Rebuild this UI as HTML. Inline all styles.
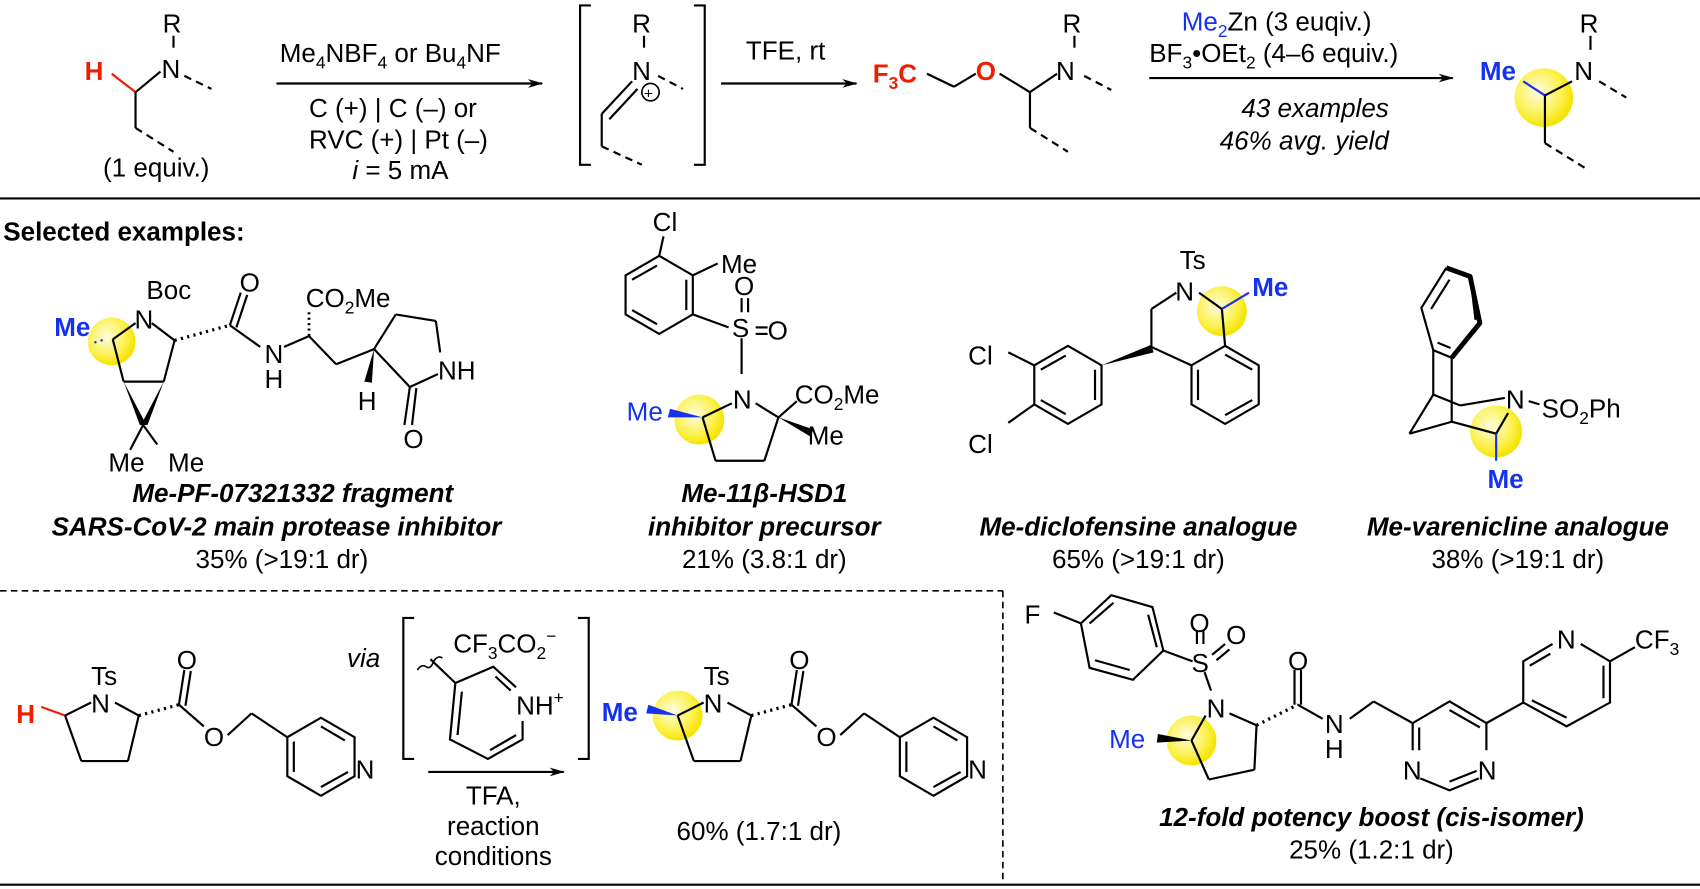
<!DOCTYPE html>
<html><head><meta charset="utf-8"><style>
html,body{margin:0;padding:0;background:#fff;}
svg{display:block;}
text{font-family:"Liberation Sans",Arial,sans-serif;font-size:24px;fill:#000;}
.b{font-weight:bold;font-style:italic;}
.i{font-style:italic;}
.red{fill:#f01e00;}
.blue{fill:#1432f0;}
.bl{stroke:#1432f0;}
.s{font-size:16px;}
</style></head><body>
<svg width="1700" height="889" viewBox="0 0 1568 820" xmlns="http://www.w3.org/2000/svg">
<defs>
<radialGradient id="y" cx="0.4" cy="0.4" r="0.6"><stop offset="0" stop-color="#fffde0"/><stop offset="0.7" stop-color="#fbf04a"/><stop offset="1" stop-color="#f5e400"/></radialGradient>
<marker id="ah" markerWidth="14" markerHeight="10" refX="13" refY="5" orient="auto" markerUnits="userSpaceOnUse"><path d="M0,1 L14,5 L0,9 L4,5z" fill="#000"/></marker>
</defs>
<g stroke="#000" stroke-width="2" fill="none">
<line x1="103" y1="68" x2="125" y2="85" stroke="#f01e00"/>
<line x1="125" y1="85" x2="148" y2="66"/>
<line x1="160" y1="33" x2="160" y2="44"/>
<line x1="170" y1="70" x2="195" y2="82" stroke-dasharray="7,5"/>
<line x1="125" y1="85" x2="125" y2="118"/>
<line x1="125" y1="118" x2="160" y2="140" stroke-dasharray="7,5"/>
<line x1="255" y1="77" x2="500" y2="77" marker-end="url(#ah)"/>
<path d="M545,5 H535 V152 H545"/>
<path d="M640,5 H650 V152 H640"/>
<line x1="594" y1="33" x2="594" y2="44"/>
<line x1="555" y1="105" x2="583" y2="75"/>
<line x1="562" y1="110" x2="588" y2="82"/>
<circle cx="600" cy="85" r="8" stroke-width="1.5"/>
<line x1="607" y1="70" x2="630" y2="82" stroke-dasharray="7,5"/>
<line x1="555" y1="105" x2="555" y2="135"/>
<line x1="555" y1="135" x2="592" y2="152" stroke-dasharray="7,5"/>
<line x1="665" y1="77" x2="790" y2="77" marker-end="url(#ah)"/>
<line x1="855" y1="68" x2="880" y2="80"/>
<line x1="880" y1="80" x2="900" y2="68"/>
<line x1="922" y1="68" x2="950" y2="85"/>
<line x1="950" y1="85" x2="975" y2="68"/>
<line x1="991" y1="33" x2="991" y2="44"/>
<line x1="1000" y1="70" x2="1025" y2="83" stroke-dasharray="7,5"/>
<line x1="950" y1="85" x2="950" y2="118"/>
<line x1="950" y1="118" x2="985" y2="140" stroke-dasharray="7,5"/>
<line x1="1060" y1="72" x2="1340" y2="72" marker-end="url(#ah)"/>
</g>
<circle cx="1424" cy="90" r="27" fill="url(#y)"/>
<g stroke="#000" stroke-width="2" fill="none">
<line x1="1405" y1="75" x2="1425" y2="88" class="bl"/>
<line x1="1425" y1="88" x2="1450" y2="75"/>
<line x1="1467" y1="33" x2="1467" y2="46"/>
<line x1="1475" y1="75" x2="1500" y2="90" stroke-dasharray="7,5"/>
<line x1="1425" y1="88" x2="1425" y2="132"/>
<line x1="1425" y1="132" x2="1462" y2="155" stroke-dasharray="7,5"/>
<line x1="0" y1="183" x2="1568" y2="183"/>
</g>
<text x="78" y="74" class="red" font-weight="bold">H</text>
<text x="149" y="72">N</text><text x="150" y="30">R</text>
<text x="95" y="163">(1 equiv.)</text>
<text x="258" y="57">Me<tspan class="s" dy="6">4</tspan><tspan dy="-6">NBF</tspan><tspan class="s" dy="6">4</tspan><tspan dy="-6"> or Bu</tspan><tspan class="s" dy="6">4</tspan><tspan dy="-6">NF</tspan></text>
<text x="285" y="108">C (+) | C (–) or</text>
<text x="285" y="137">RVC (+) | Pt (–)</text>
<text x="325" y="165"><tspan class="i">i</tspan> = 5 mA</text>
<text x="583" y="30">R</text><text x="583" y="74">N</text>
<text x="594" y="91" style="font-size:14px">+</text>
<text x="688" y="55">TFE, rt</text>
<text x="805" y="76" class="red" font-weight="bold">F<tspan class="s" dy="6">3</tspan><tspan dy="-6">C</tspan></text>
<text x="900" y="74" class="red" font-weight="bold">O</text>
<text x="974" y="74">N</text><text x="980" y="30">R</text>
<text x="1090" y="28"><tspan class="blue">Me<tspan class="s" dy="6">2</tspan></tspan><tspan dy="-6">Zn (3 euqiv.)</tspan></text>
<text x="1060" y="57">BF<tspan class="s" dy="6">3</tspan><tspan dy="-6">•OEt</tspan><tspan class="s" dy="6">2</tspan><tspan dy="-6"> (4–6 equiv.)</tspan></text>
<text x="1145" y="108" class="i">43 examples</text>
<text x="1125" y="138" class="i">46% avg. yield</text>
<text x="1365" y="74" class="blue" font-weight="bold">Me</text>
<text x="1452" y="74">N</text><text x="1457" y="30">R</text>

<text x="3" y="222" font-weight="bold">Selected examples:</text>

<circle cx="103" cy="315" r="22" fill="url(#y)"/>
<g stroke="#000" stroke-width="2" fill="none">
<line x1="87" y1="316" x2="97" y2="313" class="bl" stroke-dasharray="2,4"/>
<line x1="104" y1="313" x2="125" y2="298"/>
<line x1="140" y1="298" x2="161" y2="314"/>
<line x1="161" y1="314" x2="151" y2="352"/>
<line x1="104" y1="313" x2="114" y2="352"/>
<line x1="114" y1="352" x2="151" y2="352"/>
<line x1="161" y1="314" x2="212" y2="300" stroke-dasharray="2,4" stroke-width="3"/>
<line x1="212" y1="300" x2="222" y2="270"/><line x1="218" y1="302" x2="228" y2="272"/>
<line x1="212" y1="300" x2="240" y2="320"/>
<line x1="262" y1="320" x2="285" y2="310"/>
<line x1="285" y1="310" x2="285" y2="285" stroke-dasharray="2,3" stroke-width="2.5"/>
<line x1="285" y1="310" x2="310" y2="336"/>
<line x1="310" y1="336" x2="345" y2="322"/>
<line x1="345" y1="322" x2="365" y2="290"/><line x1="365" y1="290" x2="402" y2="296"/>
<line x1="402" y1="296" x2="406" y2="325"/><line x1="404" y1="345" x2="378" y2="357"/>
<line x1="378" y1="357" x2="345" y2="322"/>
<line x1="378" y1="357" x2="373" y2="392"/><line x1="384" y1="358" x2="380" y2="392"/>
<line x1="132" y1="392" x2="120" y2="415"/><line x1="132" y1="392" x2="145" y2="410"/>
</g>
<path d="M114,352 L129,392 L135,392z M151,352 L130,392 L136,392z M345,322 L336,352 L343,353z" fill="#000"/>
<text x="50" y="310" class="blue" font-weight="bold">Me</text>
<text x="124" y="303">N</text><text x="135" y="276">Boc</text>
<text x="221" y="269">O</text>
<text x="244" y="335">N</text><text x="244" y="358">H</text>
<text x="282" y="283">CO<tspan class="s" dy="6">2</tspan><tspan dy="-6">Me</tspan></text>
<text x="330" y="378">H</text>
<text x="404" y="350">NH</text>
<text x="372" y="413">O</text>
<text x="100" y="435">Me</text><text x="155" y="435">Me</text>
<text x="270" y="463" class="b" text-anchor="middle">Me-PF-07321332 fragment</text>
<text x="255" y="494" class="b" text-anchor="middle">SARS-CoV-2 main protease inhibitor</text>
<text x="260" y="524" text-anchor="middle">35% (&gt;19:1 dr)</text>

<circle cx="645" cy="387" r="23" fill="url(#y)"/>
<g stroke="#000" stroke-width="2" fill="none">
<polygon points="608,236 639,254 639,290 608,308 577,290 577,254"/>
<line x1="583" y1="258" x2="606" y2="245"/><line x1="583" y1="286" x2="606" y2="299"/><line x1="633" y1="258" x2="633" y2="286"/>
<line x1="608" y1="236" x2="612" y2="218"/>
<line x1="639" y1="254" x2="662" y2="243"/>
<line x1="639" y1="290" x2="672" y2="302"/>
<line x1="684" y1="288" x2="684" y2="275"/><line x1="690" y1="288" x2="690" y2="275"/>
<line x1="697" y1="302" x2="708" y2="302"/><line x1="697" y1="308" x2="708" y2="308"/>
<line x1="684" y1="312" x2="684" y2="345"/>
<line x1="675" y1="372" x2="648" y2="385"/>
<line x1="697" y1="372" x2="718" y2="385"/>
<line x1="648" y1="385" x2="660" y2="425"/><line x1="660" y1="425" x2="705" y2="425"/><line x1="705" y1="425" x2="718" y2="385"/>
<line x1="718" y1="385" x2="735" y2="370"/>
</g>
<path d="M718,385 L750,396 L748,403z" fill="#000"/>
<path d="M648,385 L618,377 L616,385z" fill="#1432f0"/>
<text x="602" y="213">Cl</text><text x="665" y="252">Me</text>
<text x="675" y="311">S</text><text x="677" y="272">O</text><text x="708" y="313">O</text>
<text x="676" y="377">N</text>
<text x="578" y="388" class="blue">Me</text>
<text x="733" y="372">CO<tspan class="s" dy="6">2</tspan><tspan dy="-6">Me</tspan></text>
<text x="745" y="410">Me</text>
<text x="705" y="463" class="b" text-anchor="middle">Me-11β-HSD1</text>
<text x="705" y="494" class="b" text-anchor="middle">inhibitor precursor</text>
<text x="705" y="524" text-anchor="middle">21% (3.8:1 dr)</text>

<circle cx="1127" cy="287" r="23" fill="url(#y)"/>
<g stroke="#000" stroke-width="2" fill="none">
<polygon points="985,319 1016,337 1016,373 985,391 954,373 954,337"/>
<line x1="960" y1="341" x2="983" y2="328"/><line x1="960" y1="369" x2="983" y2="382"/><line x1="1010" y1="341" x2="1010" y2="369"/>
<line x1="954" y1="337" x2="930" y2="325"/><line x1="954" y1="373" x2="930" y2="390"/>
<polygon points="1130,319 1161,337 1161,373 1130,391 1099,373 1099,337"/>
<line x1="1105" y1="341" x2="1105" y2="369"/><line x1="1130" y1="327" x2="1155" y2="341"/><line x1="1130" y1="383" x2="1155" y2="369"/>
<line x1="1062" y1="320" x2="1099" y2="337"/>
<line x1="1062" y1="320" x2="1062" y2="285"/>
<line x1="1062" y1="285" x2="1085" y2="270"/>
<line x1="1106" y1="270" x2="1127" y2="285"/>
<line x1="1127" y1="285" x2="1130" y2="319"/>
<line x1="1127" y1="285" x2="1152" y2="270" class="bl"/>
</g>
<path d="M1016,337 L1062,318 L1064,325z" fill="#000"/>
<text x="1088" y="248">Ts</text><text x="1084" y="277">N</text>
<text x="1155" y="273" class="blue" font-weight="bold">Me</text>
<text x="893" y="336">Cl</text><text x="893" y="418">Cl</text>
<text x="1050" y="494" class="b" text-anchor="middle">Me-diclofensine analogue</text>
<text x="1050" y="524" text-anchor="middle">65% (&gt;19:1 dr)</text>

<circle cx="1380" cy="398" r="24" fill="url(#y)"/>
<g stroke="#000" stroke-width="2" fill="none">
<path d="M1339,330 L1322,323 L1311,284 L1334,247"/>
<path d="M1334,247 L1356,255 L1365,298 L1339,330" stroke-width="4.5" stroke-linejoin="round"/>
<line x1="1320" y1="285" x2="1337" y2="258"/><line x1="1357" y1="262" x2="1361" y2="295"/><line x1="1326" y1="316" x2="1338" y2="321"/>
<line x1="1322" y1="323" x2="1322" y2="364"/>
<line x1="1339" y1="330" x2="1339" y2="389"/>
<line x1="1322" y1="364" x2="1300" y2="400"/><line x1="1300" y1="400" x2="1339" y2="389"/>
<line x1="1339" y1="389" x2="1380" y2="400"/>
<line x1="1380" y1="400" x2="1391" y2="381"/>
<line x1="1322" y1="364" x2="1347" y2="374"/><line x1="1347" y1="374" x2="1388" y2="367"/>
<line x1="1380" y1="400" x2="1380" y2="425" class="bl"/>
<line x1="1410" y1="370" x2="1420" y2="373"/>
</g>
<text x="1389" y="377">N</text><text x="1422" y="385">SO<tspan class="s" dy="6">2</tspan><tspan dy="-6">Ph</tspan></text>
<text x="1372" y="450" class="blue" font-weight="bold">Me</text>
<text x="1400" y="494" class="b" text-anchor="middle">Me-varenicline analogue</text>
<text x="1400" y="524" text-anchor="middle">38% (&gt;19:1 dr)</text>

<g stroke="#000" stroke-width="1.5" fill="none">
<line x1="0" y1="545" x2="925" y2="545" stroke-dasharray="6,4"/>
<line x1="925" y1="545" x2="925" y2="815" stroke-dasharray="6,4"/>
<line x1="0" y1="816" x2="1568" y2="816" stroke-width="2"/>
</g>

<g stroke="#000" stroke-width="2" fill="none">
<line x1="38" y1="652" x2="60" y2="660" stroke="#f01e00"/>
<line x1="60" y1="660" x2="84" y2="648"/><line x1="106" y1="648" x2="128" y2="660"/>
<line x1="60" y1="660" x2="75" y2="702"/><line x1="75" y1="702" x2="118" y2="702"/><line x1="118" y1="702" x2="128" y2="660"/>
<line x1="128" y1="660" x2="165" y2="650" stroke-dasharray="2,4" stroke-width="3"/>
<line x1="165" y1="650" x2="170" y2="618"/><line x1="171" y1="651" x2="176" y2="619"/>
<line x1="165" y1="650" x2="188" y2="670"/>
<line x1="210" y1="678" x2="232" y2="658"/>
<line x1="232" y1="658" x2="265" y2="680"/>
<polygon points="265,680 296,662 327,680 327,716 296,734 265,716"/>
<line x1="271" y1="712" x2="271" y2="684"/><line x1="296" y1="726" x2="321" y2="712"/><line x1="296" y1="670" x2="318" y2="683"/>
<path d="M382,570 H372 V700 H382"/>
<path d="M533,570 H543 V700 H533"/>
<path d="M385,618 q4,-6 8,-3 q4,3 7,-5 q4,-6 8,-3" stroke-width="1.5"/>
<line x1="397" y1="608" x2="420" y2="630"/>
<path d="M420,630 L455,615 L476,634 M482,665 L482,682 L450,700 L415,682 L420,630"/>
<line x1="457" y1="624" x2="471" y2="637"/><line x1="452" y1="692" x2="476" y2="678"/><line x1="422" y1="678" x2="426" y2="638"/>
<line x1="395" y1="712" x2="520" y2="712" marker-end="url(#ah)"/>
</g>
<text x="15" y="667" class="red" font-weight="bold">H</text>
<text x="84" y="657">N</text><text x="84" y="632">Ts</text>
<text x="163" y="617">O</text><text x="188" y="688">O</text>
<text x="328" y="718">N</text>
<text x="320" y="615" class="i">via</text>
<text x="418" y="602">CF<tspan class="s" dy="6">3</tspan><tspan dy="-6">CO</tspan><tspan class="s" dy="6">2</tspan><tspan class="s" dy="-16">−</tspan></text>
<text x="476" y="659">NH<tspan class="s" dy="-10">+</tspan></text>
<text x="455" y="742" text-anchor="middle">TFA,</text>
<text x="455" y="770" text-anchor="middle">reaction</text>
<text x="455" y="798" text-anchor="middle">conditions</text>

<circle cx="625" cy="660" r="23" fill="url(#y)"/>
<g stroke="#000" stroke-width="2" fill="none" transform="translate(565,0)">
<line x1="60" y1="660" x2="84" y2="648"/><line x1="106" y1="648" x2="128" y2="660"/>
<line x1="60" y1="660" x2="75" y2="702"/><line x1="75" y1="702" x2="118" y2="702"/><line x1="118" y1="702" x2="128" y2="660"/>
<line x1="128" y1="660" x2="165" y2="650" stroke-dasharray="2,4" stroke-width="3"/>
<line x1="165" y1="650" x2="170" y2="618"/><line x1="171" y1="651" x2="176" y2="619"/>
<line x1="165" y1="650" x2="188" y2="670"/>
<line x1="210" y1="678" x2="232" y2="658"/>
<line x1="232" y1="658" x2="265" y2="680"/>
<polygon points="265,680 296,662 327,680 327,716 296,734 265,716"/>
<line x1="271" y1="712" x2="271" y2="684"/><line x1="296" y1="726" x2="321" y2="712"/><line x1="296" y1="670" x2="318" y2="683"/>
</g>
<path d="M625,660 L598,650 L596,658z" fill="#1432f0"/>
<text x="555" y="665" class="blue" font-weight="bold">Me</text>
<text x="649" y="657">N</text><text x="649" y="632">Ts</text>
<text x="728" y="617">O</text><text x="753" y="688">O</text>
<text x="893" y="718">N</text>
<text x="700" y="775" text-anchor="middle">60% (1.7:1 dr)</text>

<circle cx="1099" cy="683" r="23" fill="url(#y)"/>
<g stroke="#000" stroke-width="2" fill="none">
<polygon points="997,575 1025,549 1063,560 1073,600 1045,627 1005,616"/>
<line x1="1005" y1="575" x2="1027" y2="556"/><line x1="1059" y1="567" x2="1067" y2="597"/><line x1="1010" y1="609" x2="1042" y2="618"/>
<line x1="997" y1="575" x2="972" y2="565"/>
<line x1="1073" y1="600" x2="1100" y2="610"/>
<line x1="1104" y1="594" x2="1104" y2="582"/><line x1="1110" y1="594" x2="1110" y2="582"/>
<line x1="1118" y1="604" x2="1130" y2="594"/><line x1="1122" y1="609" x2="1134" y2="599"/>
<line x1="1111" y1="620" x2="1117" y2="637"/>
<line x1="1112" y1="660" x2="1099" y2="683"/>
<line x1="1099" y1="683" x2="1115" y2="719"/><line x1="1115" y1="719" x2="1157" y2="710"/><line x1="1157" y1="710" x2="1159" y2="669"/>
<line x1="1134" y1="658" x2="1159" y2="669"/>
<line x1="1159" y1="669" x2="1197" y2="650" stroke-dasharray="2,4" stroke-width="3"/>
<line x1="1194" y1="650" x2="1194" y2="618"/><line x1="1200" y1="650" x2="1200" y2="618"/>
<line x1="1197" y1="650" x2="1220" y2="663"/>
<line x1="1245" y1="663" x2="1267" y2="647"/>
<line x1="1267" y1="647" x2="1303" y2="667"/>
<path d="M1303,667 L1337,647 L1371,667 L1371,692 M1364,718 L1337,729 L1310,718 M1303,692 L1303,667"/>
<line x1="1309" y1="671" x2="1309" y2="692"/><line x1="1337" y1="655" x2="1365" y2="671"/><line x1="1337" y1="721" x2="1362" y2="711"/>
<line x1="1371" y1="667" x2="1405" y2="648"/>
<path d="M1405,648 L1405,610 L1432,594 M1458,594 L1485,610 L1485,648 L1445,670 L1405,648"/>
<line x1="1411" y1="614" x2="1430" y2="603"/><line x1="1479" y1="614" x2="1479" y2="644"/><line x1="1413" y1="646" x2="1445" y2="662"/>
<line x1="1485" y1="610" x2="1508" y2="597"/>
</g>
<path d="M1099,683 L1068,677 L1067,685z" fill="#000"/>
<text x="945" y="575">F</text>
<text x="1099" y="620">S</text><text x="1097" y="583">O</text><text x="1131" y="594">O</text>
<text x="1113" y="662">N</text>
<text x="1023" y="690" class="blue">Me</text>
<text x="1188" y="618">O</text>
<text x="1222" y="676">N</text><text x="1222" y="699">H</text>
<text x="1294" y="719">N</text><text x="1363" y="719">N</text>
<text x="1436" y="598">N</text>
<text x="1508" y="598">CF<tspan class="s" dy="6">3</tspan></text>
<text x="1265" y="762" class="b" text-anchor="middle">12-fold potency boost (cis-isomer)</text>
<text x="1265" y="792" text-anchor="middle">25% (1.2:1 dr)</text>
</svg>
</body></html>
